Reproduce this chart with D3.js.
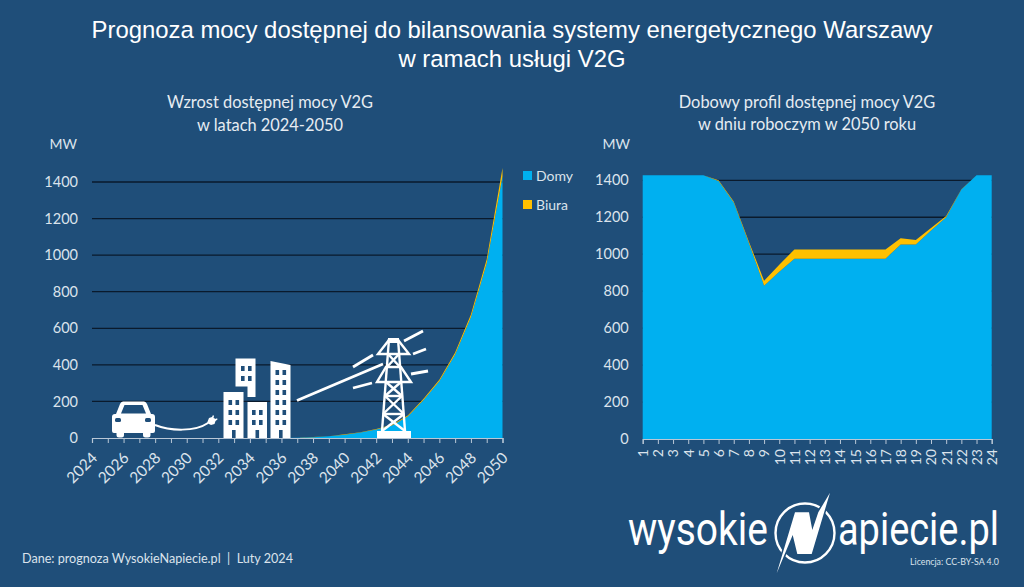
<!DOCTYPE html>
<html>
<head>
<meta charset="utf-8">
<script src="https://cdn.jsdelivr.net/npm/d3@7"></script>
<style>
  html, body { margin: 0; padding: 0; background: #1f4e79; }
  svg { display: block; }
  text { font-family: Lato, sans-serif; fill: #dbe3ec; }
</style>
</head>
<body>
<script>
// wykres lewy - lata
const years = [2024, 2025, 2026, 2027, 2028, 2029, 2030, 2031, 2032, 2033, 2034, 2035, 2036, 2037,
  2038, 2039, 2040, 2041, 2042, 2043, 2044, 2045, 2046, 2047, 2048, 2049, 2050];
const yearDomy = [0, 0, 0, 0, 0, 0, 0, 0, 0, 0, 0, 0, 0, 1,
  4, 9, 18, 30, 46, 68, 118, 208, 311, 456, 660, 955, 1432];
const yearBiura = [0, 0, 0, 0, 0, 0, 0, 0, 0, 0, 0, 0, 0, 0,
  1, 1, 2, 2, 3, 4, 5, 6, 8, 11, 16, 22, 44];

// wykres prawy - godziny
const hours = [1, 2, 3, 4, 5, 6, 7, 8, 9, 10, 11, 12, 13, 14, 15, 16, 17, 18, 19, 20, 21, 22, 23, 24];
const hourDomy = [1428, 1428, 1428, 1428, 1428, 1396, 1280, 1060, 830, 905, 976, 976, 976, 976, 976, 976, 976,
  1052, 1052, 1128, 1200, 1350, 1428, 1428];
const hourBiura = [0, 0, 0, 0, 0, 4, 5, 8, 27, 38, 50, 50, 50, 50, 50, 50, 50, 34, 25, 14, 7, 1, 0, 0];

const yTicks = [0, 200, 400, 600, 800, 1000, 1200, 1400];
const keys = ["domy", "biura"];
const colors = { domy: "#00b0f0", biura: "#ffc000" };
const labels = { domy: "Domy", biura: "Biura" };

const bg = "#1f4e79";

const svg = d3.select("body").append("svg")
  .attr("width", 1024)
  .attr("height", 587)
  .style("background", bg);

// tytuly
function centerText(x, y, str, size, fam, col) {
  return svg.append("text")
    .attr("x", x).attr("y", y)
    .attr("text-anchor", "middle")
    .style("font-size", size + "px")
    .style("font-family", fam || "Lato, sans-serif")
    .style("fill", col || "#e6ecf2")
    .text(str);
}
const arial = "'Liberation Sans', Arial, sans-serif";
centerText(512, 38, "Prognoza mocy dostępnej do bilansowania systemy energetycznego Warszawy", 23.9, arial, "#fff");
centerText(512, 67, "w ramach usługi V2G", 23.9, arial, "#fff");
centerText(270, 108, "Wzrost dostępnej mocy V2G", 16.4);
centerText(270, 131, "w latach 2024-2050", 16.4);
centerText(807, 108, "Dobowy profil dostępnej mocy V2G", 16.4);
centerText(807, 130, "w dniu roboczym w 2050 roku", 16.4);

function drawChart(opt) {
  const rows = opt.xs.map((x, i) => ({ x: x, domy: opt.domy[i], biura: opt.biura[i] }));
  const x = d3.scaleLinear().domain(d3.extent(opt.xs)).range(opt.xRange);
  const y = d3.scaleLinear().domain([0, 1400]).range(opt.yRange);

  const g = svg.append("g");

  // siatka
  g.append("g").selectAll("line")
    .data(yTicks.slice(1))
    .enter().append("line")
    .attr("x1", opt.xRange[0]).attr("x2", opt.xRange[1])
    .attr("y1", d => y(d)).attr("y2", d => y(d))
    .attr("stroke", "#0a1a2c")
    .attr("stroke-width", 1.3);

  const series = d3.stack().keys(keys)(rows);
  const area = d3.area()
    .x(d => x(d.data.x))
    .y0(d => y(d[0]))
    .y1(d => y(d[1]));

  g.selectAll("path.area")
    .data(series)
    .enter().append("path")
    .attr("class", "area")
    .attr("d", area)
    .attr("fill", d => colors[d.key]);

  // os x
  const xAxis = g.append("g")
    .attr("transform", "translate(0," + opt.yRange[0] + ")")
    .call(d3.axisBottom(x).tickValues(opt.xs).tickSizeOuter(0).tickSize(5).tickFormat(opt.fmt));
  xAxis.select(".domain").attr("stroke", "#b9c7d6").attr("stroke-width", 1.2);
  xAxis.selectAll(".tick line").attr("stroke", "#b9c7d6");
  xAxis.selectAll("text")
    .style("font-size", opt.xFont + "px")
    .style("font-family", "Lato, sans-serif")
    .style("fill", "#dbe3ec")
    .attr("text-anchor", "end")
    .attr("dy", "0.35em")
    .attr("y", 0)
    .attr("x", 0)
    .attr("transform", "translate(" + opt.lx + "," + opt.ly + ") rotate(" + opt.rot + ")");

  // os y
  const yAxis = g.append("g")
    .attr("transform", "translate(" + opt.xRange[0] + ",0)")
    .call(d3.axisLeft(y).tickValues(yTicks).tickSize(0).tickPadding(opt.yPad).tickFormat(d3.format("d")));
  yAxis.select(".domain").remove();
  yAxis.selectAll("text")
    .style("font-size", "14.5px")
    .style("font-family", "Lato, sans-serif")
    .style("fill", "#dbe3ec");

  svg.append("text")
    .attr("x", opt.mwX).attr("y", 149)
    .attr("text-anchor", "end")
    .style("font-size", "14px")
    .text("MW");
}

drawChart({
  xs: years, domy: yearDomy, biura: yearBiura,
  xRange: [92, 502.5], yRange: [438, 182],
  fmt: d => (d % 2 === 0 ? d : ""),
  xFont: 15.5, rot: -45, lx: 2, ly: 17, yPad: 14, mwX: 77
});

drawChart({
  xs: hours, domy: hourDomy, biura: hourBiura,
  xRange: [642.7, 991.7], yRange: [439, 180.3],
  fmt: d => d,
  xFont: 14, rot: -90, lx: 0, ly: 10, yPad: 14, mwX: 630
});

// legenda
const legend = svg.append("g").selectAll("g")
  .data(keys)
  .enter().append("g")
  .attr("transform", (d, i) => "translate(523," + (171 + i * 29) + ")");
legend.append("rect")
  .attr("width", 9).attr("height", 9)
  .attr("fill", d => colors[d]);
legend.append("text")
  .attr("x", 13).attr("y", 9.5)
  .style("font-size", "14px")
  .text(d => labels[d]);

// ikony
const icons = svg.append("g");

// samochod
icons.append("path")
  .attr("fill", "#fff")
  .attr("d", "M123 401.5 H144 Q146 401.5 147 404 L151 414 H152 Q155 414 155 417 V431 Q155 433 153 433 H150.5 V435 Q150.5 437.5 148 437.5 H145.5 Q143 437.5 143 435 V433 H124 V435 Q124 437.5 121.5 437.5 H119 Q116.5 437.5 116.5 435 V433 H114 Q112 433 112 431 V417 Q112 414 115 414 H116 L120 404 Q121 401.5 123 401.5 Z");
icons.append("path")
  .attr("fill", bg)
  .attr("d", "M124.5 405 H142.5 L146 413.5 H121 Z");
icons.append("rect").attr("x", 115).attr("y", 418).attr("width", 6).attr("height", 4).attr("rx", 1.5).attr("fill", bg);
icons.append("rect").attr("x", 145).attr("y", 418).attr("width", 6).attr("height", 4).attr("rx", 1.5).attr("fill", bg);
icons.append("path")
  .attr("fill", "none").attr("stroke", "#fff").attr("stroke-width", 2)
  .attr("d", "M155 425 C170 431 195 432 208 423");
icons.append("path")
  .attr("fill", "#fff")
  .attr("d", "M207 423 L209 418 L212 417 L213 415 L214 416 L213.5 418 L216 419 L217 418 L217.5 419.5 L215.5 421 L214.5 424 L211 425 Z");

// budynki
function building(points, windows, doorX) {
  icons.append("path").attr("fill", "#fff").attr("d", "M" + points.join(" L") + " Z");
  windows.forEach(w => {
    icons.append("rect")
      .attr("x", w[0]).attr("y", w[1])
      .attr("width", 3.6).attr("height", 5)
      .attr("fill", bg);
  });
  if (doorX) {
    icons.append("rect")
      .attr("x", doorX).attr("y", 430)
      .attr("width", 3.6).attr("height", 8)
      .attr("fill", bg);
  }
}
function grid(xs, ys) {
  const out = [];
  ys.forEach(b => xs.forEach(a => out.push([a, b])));
  return out;
}
building(["223.5,392", "243.5,392", "243.5,438", "223.5,438"],
  grid([228.5, 235.5], [400, 410, 420]), 232);
building(["235.5,358.5", "255.5,358.5", "255.5,397", "247.5,397", "247.5,386.5", "235.5,386.5"],
  grid([241, 248], [366, 376]), null);
building(["247.5,402", "267,402", "267,438", "247.5,438"],
  grid([252, 259], [410, 420]), 255.5);
building(["270.5,361", "290.5,365", "290.5,438", "270.5,438"],
  grid([275.5, 282.5], [370, 380, 390, 400, 410, 420]), 279);

// slup
const tower = icons.append("g")
  .attr("fill", "none").attr("stroke", "#fff").attr("stroke-width", 2.4);
[
  "M389 339 L382 431", "M398 339 L405 431",
  "M378 354 L409 354 L398 340 H389 Z",
  "M377 382 L411 382 L401 367 H386 Z",
  "M388 354 L400 367", "M399 354 L387 367",
  "M386 382 L402 396", "M401 382 L385 396",
  "M385 396 H402",
  "M385 396 L404 414", "M402 396 L383 414",
  "M383 414 H404",
  "M383 414 L405 431", "M404 414 L382 431"
].forEach(d => tower.append("path").attr("d", d));
icons.append("rect").attr("x", 377).attr("y", 431).attr("width", 34).attr("height", 7).attr("fill", "#fff");
icons.append("rect").attr("x", 388).attr("y", 338).attr("width", 11).attr("height", 5).attr("fill", "#fff");

// przewody
const wires = [
  [297, 400.5, 383, 364], [353, 367, 373, 355], [353, 388, 372, 383],
  [404, 341, 423, 331], [413, 354, 426, 349], [411, 374, 428, 371]
];
icons.selectAll("line.wire")
  .data(wires)
  .enter().append("line")
  .attr("class", "wire")
  .attr("x1", d => d[0]).attr("y1", d => d[1])
  .attr("x2", d => d[2]).attr("y2", d => d[3])
  .attr("stroke", "#fff").attr("stroke-width", 2.8);

// stopka
svg.append("text")
  .attr("x", 22).attr("y", 563)
  .style("font-size", "12.6px")
  .text("Dane: prognoza WysokieNapiecie.pl\u00a0\u00a0|\u00a0\u00a0Luty 2024");

// logo - tekst sciesniony przez skale w poziomie
const logo = svg.append("g");
function logoText(x, len, str) {
  const t = logo.append("text")
    .attr("y", 545)
    .style("font-family", "Roboto, sans-serif")
    .style("font-size", "47px")
    .style("fill", "#fff")
    .text(str);
  const k = len / t.node().getComputedTextLength();
  t.attr("transform", "translate(" + x + ",0) scale(" + k + ",1)");
}
logoText(628, 140, "wysokie");
logoText(838, 161, "apiecie.pl");
logo.append("circle")
  .attr("cx", 805).attr("cy", 533).attr("r", 29.5)
  .attr("fill", "none").attr("stroke", "#fff").attr("stroke-width", 2.4);
logo.append("path")
  .attr("fill", bg).attr("stroke", bg).attr("stroke-width", 3)
  .attr("d", "M830 492.7 L811.7 554 H797.3 L792.7 535 L776.7 573.3 L795 512.3 H809 L812.3 530 L818.3 512.3 Z");
logo.append("path")
  .attr("fill", "#fff")
  .attr("d", "M830 492.7 L811.7 554 H797.3 L792.7 535 L776.7 573.3 L795 512.3 H809 L812.3 530 L818.3 512.3 Z");
svg.append("text")
  .attr("x", 910).attr("y", 565)
  .style("font-size", "8.8px")
  .text("Licencja: CC-BY-SA 4.0");
</script>
</body>
</html>
